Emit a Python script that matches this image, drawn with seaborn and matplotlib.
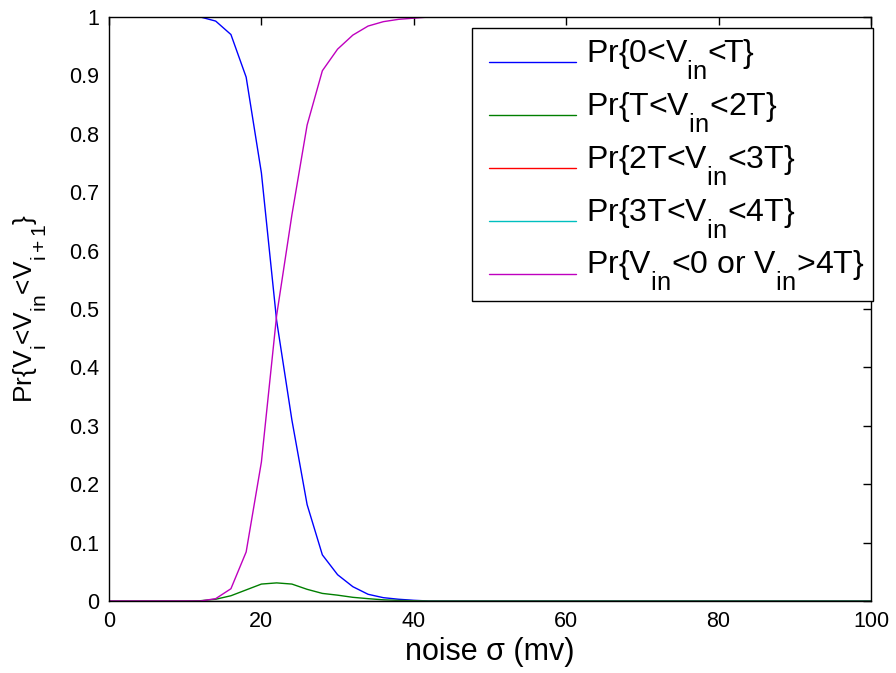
import numpy as np
import pandas as pd
import matplotlib
matplotlib.use("Agg")
import matplotlib.pyplot as plt
from matplotlib.legend_handler import HandlerLine2D
import seaborn as sns

# Larger, lower subscripts in mathtext labels
try:
    import matplotlib._mathtext as _mt
    _mt.SHRINK_FACTOR = 0.8
    _mt.FontConstantsBase.sub1 = 1.0
    _mt.FontConstantsBase.sub2 = 1.0
except Exception:
    pass

# noise sigma (mV), sampled every 2 mV
noise = list(range(0, 101, 2))

# probabilities for x = 0..40 (beyond 40 the curves are flat)
p_0_T_head = [1.0, 1.0, 1.0, 1.0, 1.0, 1.0, 1.0, 0.993, 0.970, 0.897, 0.733,
              0.480, 0.310, 0.165, 0.079, 0.045, 0.0245, 0.0115, 0.0057, 0.003, 0.0012]
p_T_2T_head = [0.0, 0.0, 0.0, 0.0, 0.0, 0.0, 0.0005, 0.003, 0.009, 0.019, 0.029,
               0.031, 0.029, 0.020, 0.013, 0.010, 0.0063, 0.004, 0.002, 0.001, 0.0005]
p_out_head = [0.0, 0.0, 0.0, 0.0, 0.0, 0.0, 0.0, 0.004, 0.021, 0.084, 0.238,
              0.489, 0.661, 0.815, 0.908, 0.945, 0.969, 0.9845, 0.992, 0.996, 0.998]

p_0_T = p_0_T_head + [0.0] * 30
p_T_2T = p_T_2T_head + [0.0] * 30
p_2T_3T = [0.0] * 51
p_3T_4T = [0.0] * 51
p_out = p_out_head + [1.0] * 30

labels = [
    r"Pr{0<V$_{\mathrm{in}}$<T}",
    r"Pr{T<V$_{\mathrm{in}}$<2T}",
    r"Pr{2T<V$_{\mathrm{in}}$<3T}",
    r"Pr{3T<V$_{\mathrm{in}}$<4T}",
    r"Pr{V$_{\mathrm{in}}$<0 or V$_{\mathrm{in}}$>4T}",
]
colors = ["#0000ff", "#007f00", "#ff0000", "#00bfbf", "#bf00bf"]
series = [p_0_T, p_T_2T, p_2T_3T, p_3T_4T, p_out]

df = pd.concat(
    [pd.DataFrame({"noise": noise, "p": s, "event": lab}) for s, lab in zip(series, labels)],
    ignore_index=True,
)


class OffsetLine(HandlerLine2D):
    """Legend line drawn a bit lower and starting a bit further right."""

    def __init__(self, dx=0.0, dy=0.0, **kw):
        super().__init__(**kw)
        self.dx = dx
        self.dy = dy

    def create_artists(self, legend, orig_handle, xdescent, ydescent,
                       width, height, fontsize, trans):
        return super().create_artists(legend, orig_handle,
                                      xdescent - self.dx, ydescent + 2 * self.dy,
                                      width - self.dx, height, fontsize, trans)


sns.set_theme(style="white")
plt.rcParams["font.family"] = ["Liberation Sans", "DejaVu Sans"]
plt.rcParams["mathtext.fontset"] = "custom"
plt.rcParams["mathtext.rm"] = "Liberation Sans"
plt.rcParams["mathtext.it"] = "Liberation Sans"
for key in ["text.color", "axes.labelcolor", "xtick.color", "ytick.color"]:
    plt.rcParams[key] = "black"

fig = plt.figure(figsize=(8.96, 6.73), dpi=100)
ax = fig.add_axes([109 / 896, 1 - 601 / 673, 762 / 896, 584 / 673])

sns.lineplot(data=df, x="noise", y="p", hue="event", palette=colors,
             hue_order=labels, linewidth=1.0, ax=ax, legend=False)

ax.set_xlim(0, 100)
ax.set_ylim(0, 1)
ax.set_xticks(np.arange(0, 101, 20))
ax.set_yticks(np.round(np.arange(0, 1.01, 0.1), 1))
ax.set_yticklabels(["0", "0.1", "0.2", "0.3", "0.4", "0.5", "0.6", "0.7", "0.8", "0.9", "1"])
ax.tick_params(direction="in", length=6, width=1, top=True, right=True,
               labelsize=15.5, colors="black", pad=7)
for sp in ax.spines.values():
    sp.set_color("black")
    sp.set_linewidth(1.0)

ax.set_xlabel("noise σ (mv)", fontsize=22, labelpad=4)
ax.set_ylabel(r"Pr{V$_{\mathrm{i}}$<V$_{\mathrm{in}}$<V$_{\mathrm{i+1}}$}", fontsize=19, labelpad=15)

handles = [plt.Line2D([], [], color=c, linewidth=1.0) for c in colors]
leg = ax.legend(handles, labels, loc="upper left", bbox_to_anchor=(0.476, 0.981),
                fontsize=23, frameon=True, fancybox=False, edgecolor="black",
                framealpha=1, handlelength=3.0, handletextpad=0.31,
                labelspacing=0.28, borderpad=0.27, borderaxespad=0,
                handler_map={plt.Line2D: OffsetLine(dx=6.0, dy=8.2)})
leg.get_frame().set_linewidth(1.0)

fig.savefig("out.png", dpi=100)
